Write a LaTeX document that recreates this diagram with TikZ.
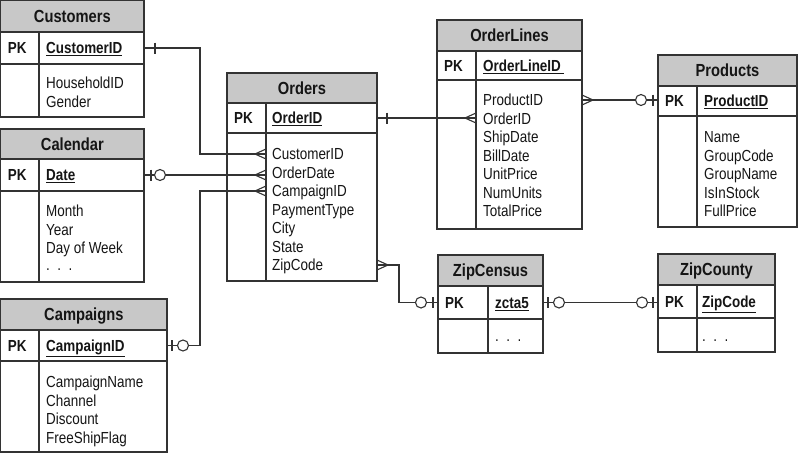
\documentclass[tikz,border=0pt]{standalone}
\usepackage{fontspec}
\setmainfont{Liberation Sans}[FakeStretch=0.84]
\definecolor{linec}{HTML}{333333}
\definecolor{hdrgray}{HTML}{C8C8C8}
\definecolor{txt}{HTML}{151515}
\tikzset{
 box/.style={draw=linec, line width=1.3pt},
 conn/.style={draw=linec, line width=1.1pt},
 ttl/.style={anchor=base, inner sep=0, font=\fontsize{17.5}{20}\selectfont\bfseries, text=txt},
 pklbl/.style={anchor=base west, inner sep=0, font=\fontsize{16}{19}\selectfont\bfseries, text=txt},
 fld/.style={anchor=base west, inner sep=0, font=\fontsize{16}{19}\selectfont, text=txt},
}
% name, L, D, R, T0, T1, T2, T3, title
\newcommand\ertable[9]{%
  \draw[box, fill=hdrgray] (#2,#5) rectangle (#4,#6);
  \node[ttl] (#1-title) at ({(#2+#4)/2},{(#5+#6)/2+6.3}) {#9};
  \draw[box] (#2,#6) rectangle (#4,#8);
  \draw[box] (#2,#7) -- (#4,#7);
  \draw[box] (#3,#6) -- (#3,#8);
  \coordinate (#1-pkW) at (#2,{(#6+#7)/2});
  \coordinate (#1-pkE) at (#4,{(#6+#7)/2});
  \node[pklbl] (#1-pk) at ({#2+7},{(#6+#7)/2+5.8}) {PK};
}
% name, divider x, text x, first centre y, list
\newcommand\erfields[5]{%
  \foreach \t [count=\i] in {#5} {
    \coordinate (#1-\i) at (#2,{#4+(\i-1)*18.5});
    \node[fld] (#1-f\i) at (#3,{#4+(\i-1)*18.5+5.8}) {\t};
  }}
\newcommand\onebar[2]{\draw[conn, shift={(#1)}] (#2,-5.5) -- (#2,5.5);}
\newcommand\zerocirc[2]{\draw[conn, fill=white, shift={(#1)}] (#2,0) circle[radius=5.5];}
\newcommand\crowfoot[2]{\draw[conn, shift={(#1)}] (#2*11,0) -- (0,5) (#2*11,0) -- (0,-5);}
\begin{document}
\begin{tikzpicture}[x=1pt,y=-1pt]
\fill[white] (0,0) rectangle (800,453);
\useasboundingbox (0,0) rectangle (800,453);

% tables
\ertable{cust}{0.7}{39}{144}{0.7}{32}{64}{117}{Customers}
\node[pklbl] (cust-pkf) at (46,{48+5.8}) {\underline{CustomerID}};
\erfields{cust}{39}{46}{83}{HouseholdID,Gender}

\ertable{cal}{0.7}{39}{144}{129}{159}{191}{282}{Calendar}
\node[pklbl] (cal-pkf) at (46,{175+5.8}) {\underline{Date}};
\erfields{cal}{39}{46}{211}{Month,Year,Day of Week}
\node[fld] (cal-dots) at (46,270.5) {.\ \ .\ \ .};

\ertable{camp}{0.7}{39}{167}{299}{330}{361}{452}{Campaigns}
\node[pklbl] (camp-pkf) at (46,{345.5+5.8}) {\underline{CampaignID}};
\erfields{camp}{39}{46}{382}{CampaignName,Channel,Discount,FreeShipFlag}

\ertable{ord}{227}{266}{377}{73}{103}{133}{281}{Orders}
\node[pklbl] (ord-pkf) at (272,{118+5.8}) {\underline{OrderID}};
\erfields{ord}{266}{272}{154}{CustomerID,OrderDate,CampaignID,PaymentType,City,State,ZipCode}

\ertable{ol}{437}{476}{582}{20}{51}{80}{229}{OrderLines}
\node[pklbl] (ol-pkf) at (483,{65.5+5.8}) {\underline{OrderLineID\,}};
\erfields{ol}{476}{483}{100}{ProductID,OrderID,ShipDate,BillDate,UnitPrice,NumUnits,TotalPrice}

\ertable{prod}{658}{697}{797}{55}{86}{116}{227}{Products}
\node[pklbl] (prod-pkf) at (704,{101+5.8}) {\underline{ProductID}};
\erfields{prod}{697}{704}{137}{Name,GroupCode,GroupName,IsInStock,FullPrice}

\ertable{zc}{438}{488}{543}{255}{286}{319}{353}{ZipCensus}
\node[pklbl] (zc-pkf) at (495,{302.5+5.8}) {\underline{zcta5}};
\node[fld] (zc-dots) at (495,341) {.\ \ .\ \ .};

\ertable{zy}{658}{697}{775}{254}{285}{318}{352}{ZipCounty}
\node[pklbl] (zy-pkf) at (702,{301.5+5.8}) {\underline{ZipCode}};
\node[fld] (zy-dots) at (702,341) {.\ \ .\ \ .};

% connectors
% Customers -> Orders
\draw[conn] (cust-pkE) -- ++(56,0) |- (ord-1);
\onebar{cust-pkE}{11}
\crowfoot{ord-1}{-1}

% Calendar -> Orders
\coordinate (calfk) at (cal-pkE -| ord-2);
\draw[conn] (cal-pkE) -- (calfk);
\crowfoot{calfk}{-1}
\onebar{cal-pkE}{7}
\zerocirc{cal-pkE}{16}

% Campaigns -> Orders
\draw[conn] (camp-pkE) -- ++(33,0) |- (ord-3);
\crowfoot{ord-3}{-1}
\onebar{camp-pkE}{5}
\zerocirc{camp-pkE}{16}

% Orders -> OrderLines
\coordinate (olfk) at (ord-pkE -| ol-2);
\draw[conn] (ord-pkE) -- (olfk);
\onebar{ord-pkE}{10}
\crowfoot{olfk}{-1}

% OrderLines -> Products
\coordinate (olR) at (ol-1 -| ol-pkE);
\coordinate (prodIn) at (olR -| prod-pkW);
\draw[conn] (olR) -- (prodIn);
\crowfoot{olR}{1}
\onebar{prodIn}{-5}
\zerocirc{prodIn}{-17}

% Orders -> ZipCensus
\coordinate (ordR7) at (ord-7 -| ord-pkE);
\draw[conn] (ordR7) -- ++(22,0) |- (zc-pkW);
\crowfoot{ordR7}{1}
\onebar{zc-pkW}{-5}
\zerocirc{zc-pkW}{-17}

% ZipCensus -> ZipCounty
\coordinate (zyIn) at (zc-pkE -| zy-pkW);
\draw[conn] (zc-pkE) -- (zyIn);
\onebar{zc-pkE}{5}
\zerocirc{zc-pkE}{16}
\onebar{zyIn}{-5}
\zerocirc{zyIn}{-16}
\end{tikzpicture}
\end{document}
